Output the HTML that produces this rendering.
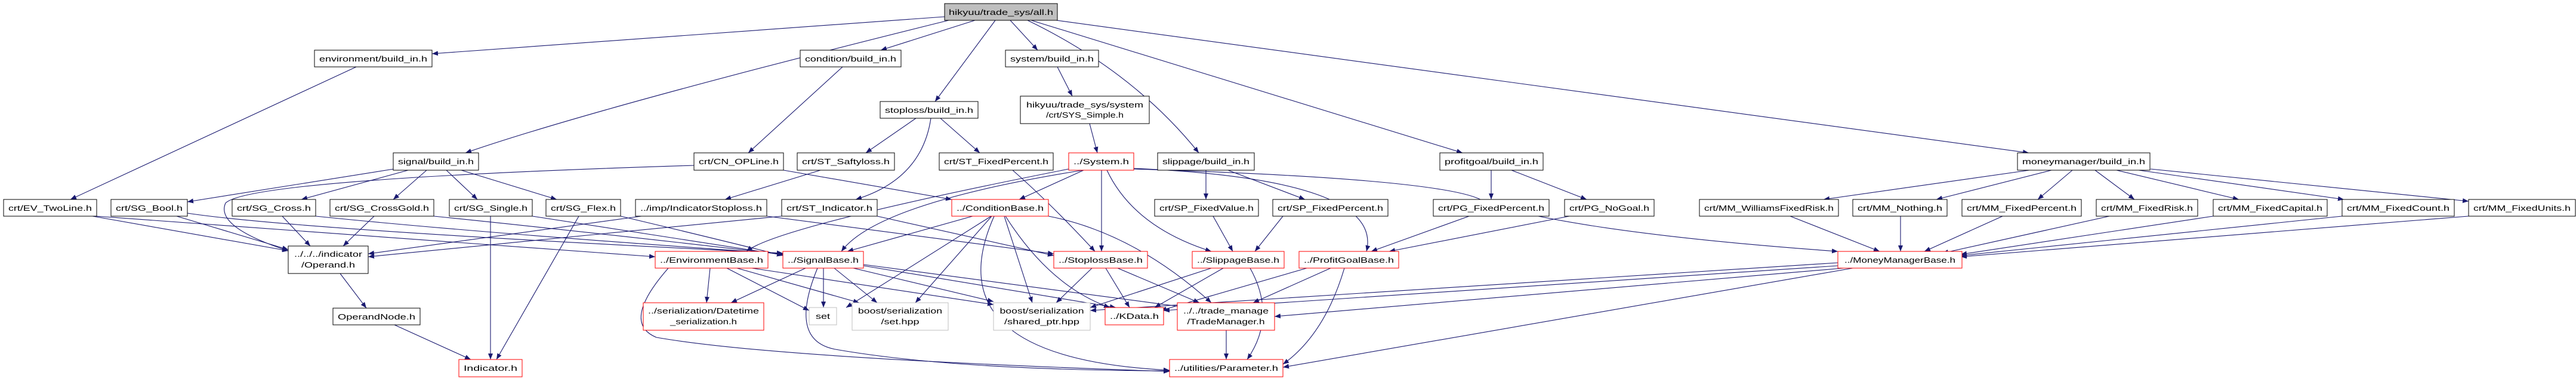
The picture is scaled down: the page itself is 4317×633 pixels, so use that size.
<!DOCTYPE html>
<html><head><meta charset="utf-8"><style>
html,body{margin:0;padding:0;background:#fff;width:4317px;height:633px;overflow:hidden}
svg text{font-family:"Liberation Sans",sans-serif;font-size:13px;fill:#000}
.e{fill:none;stroke:#191970;stroke-width:1.1}
.n{fill:#fff;stroke:#000;stroke-width:1}
.r{fill:#fff;stroke:#f00;stroke-width:1}
.g{fill:#fff;stroke:#bfbfbf;stroke-width:1}
</style></head><body>
<svg width="4317" height="633" viewBox="0 0 4317 633" xmlns="http://www.w3.org/2000/svg">
<defs><marker id="a" viewBox="0 0 10 8" refX="10" refY="4" markerWidth="10" markerHeight="8" markerUnits="userSpaceOnUse" orient="auto"><path d="M0,0L10,4L0,8z" fill="#191970"/></marker></defs>
<g marker-end="url(#a)" class="e">
<path class="e" d="M1583,28L724,90"/>
<path class="e" d="M1590,34Q1000,180 780,256"/>
<path class="e" d="M1634,34L1476,84"/>
<path class="e" d="M1668,34L1567,170"/>
<path class="e" d="M1693,34L1739,84"/>
<path class="e" d="M1722,34Q1900,120 2009,256"/>
<path class="e" d="M1728,34L2451,256"/>
<path class="e" d="M1770,34L3400,256"/>
<path class="e" d="M597,112L118,334"/>
<path class="e" d="M1412,112L1254,256"/>
<path class="e" d="M1535,198L1451,256"/>
<path class="e" d="M1576,198L1642,256"/>
<path class="e" d="M1560,198Q1545,300 1434,334"/>
<path class="e" d="M1772,112L1797,161"/>
<path class="e" d="M1826,207L1839,256"/>
<path class="e" d="M2021,285L2021,334"/>
<path class="e" d="M2058,285L2187,334"/>
<path class="e" d="M2499,285L2499,334"/>
<path class="e" d="M2533,285L2659,334"/>
<path class="e" d="M3401,285L3056,334"/>
<path class="e" d="M3438,285L3245,334"/>
<path class="e" d="M3473,285L3415,334"/>
<path class="e" d="M3511,285L3577,334"/>
<path class="e" d="M3547,285L3752,334"/>
<path class="e" d="M3584,285L3928,334"/>
<path class="e" d="M3604,283L4137,337"/>
<path class="e" d="M660,283L314,338"/>
<path class="e" d="M684,285L505,334"/>
<path class="e" d="M715,285L659,334"/>
<path class="e" d="M748,285L800,334"/>
<path class="e" d="M773,285L933,334"/>
<path class="e" d="M1163,277Q420,300 378,340Q360,380 483,420"/>
<path class="e" d="M155,362L483,420"/>
<path class="e" d="M161,362L1098,430"/>
<path class="e" d="M296,362L483,418"/>
<path class="e" d="M314,357Q500,385 1312,424"/>
<path class="e" d="M473,362L520,412"/>
<path class="e" d="M529,362Q800,390 1312,425"/>
<path class="e" d="M627,362L575,412"/>
<path class="e" d="M727,362Q1000,390 1312,426"/>
<path class="e" d="M822,362L822,602"/>
<path class="e" d="M892,362Q1100,395 1312,427"/>
<path class="e" d="M970,362L832,602"/>
<path class="e" d="M1040,362Q1200,400 1312,428"/>
<path class="e" d="M1075,362L617,425"/>
<path class="e" d="M1285,362L1766,425"/>
<path class="e" d="M1310,362L617,430"/>
<path class="e" d="M1470,362L1766,428"/>
<path class="e" d="M1313,285L1595,334"/>
<path class="e" d="M1375,285L1215,334"/>
<path class="e" d="M570,458L614,516"/>
<path class="e" d="M661,544L789,602"/>
<path class="e" d="M1697,285Q1760,340 1835,421"/>
<path class="e" d="M1791,283Q1300,380 1251,421"/>
<path class="e" d="M1815,285Q1470,340 1410,421"/>
<path class="e" d="M1816,285L1708,334"/>
<path class="e" d="M1846,285L1846,421"/>
<path class="e" d="M1855,285Q1900,380 2030,421"/>
<path class="e" d="M1900,282Q2320,300 2290,421"/>
<path class="e" d="M1900,283Q2450,300 2490,340Q2650,390 3080,421"/>
<path class="e" d="M1630,362L1420,421"/>
<path class="e" d="M1661,362L1418,515"/>
<path class="e" d="M1662,362L1534,507"/>
<path class="e" d="M1683,362L1730,507"/>
<path class="e" d="M1685,362Q1760,480 1860,515"/>
<path class="e" d="M1666,362Q1560,600 1960,620"/>
<path class="e" d="M1757,362Q1900,390 2030,507"/>
<path class="e" d="M2033,362L2066,421"/>
<path class="e" d="M2150,362L2103,421"/>
<path class="e" d="M2462,362L2298,421"/>
<path class="e" d="M2630,362L2328,421"/>
<path class="e" d="M3000,362L3150,421"/>
<path class="e" d="M3185,362L3185,421"/>
<path class="e" d="M3356,362L3225,421"/>
<path class="e" d="M3535,362L3255,424"/>
<path class="e" d="M3709,362L3286,426"/>
<path class="e" d="M3925,362L3286,428"/>
<path class="e" d="M4137,362L3286,430"/>
<path class="e" d="M1190,449L1184,507"/>
<path class="e" d="M1218,449L1356,520"/>
<path class="e" d="M1235,449L1440,507"/>
<path class="e" d="M1260,449L1665,510"/>
<path class="e" d="M1120,449Q1040,540 1100,565Q1300,600 1960,622"/>
<path class="e" d="M1350,449L1225,507"/>
<path class="e" d="M1380,449L1380,515"/>
<path class="e" d="M1398,449L1470,507"/>
<path class="e" d="M1430,449L1665,505"/>
<path class="e" d="M1447,445L1870,515"/>
<path class="e" d="M1447,443L1990,515"/>
<path class="e" d="M1370,449Q1320,570 1400,585Q1600,620 1960,621"/>
<path class="e" d="M1830,449L1770,507"/>
<path class="e" d="M1853,449L1893,515"/>
<path class="e" d="M1873,449L2010,507"/>
<path class="e" d="M2030,449L1827,515"/>
<path class="e" d="M2050,449L1935,515"/>
<path class="e" d="M2095,449Q2140,530 2090,602"/>
<path class="e" d="M2190,449L1945,520"/>
<path class="e" d="M2230,449L2100,507"/>
<path class="e" d="M2253,449Q2220,560 2150,610"/>
<path class="e" d="M3080,440L1827,520"/>
<path class="e" d="M3080,445L1950,520"/>
<path class="e" d="M3090,449L2136,530"/>
<path class="e" d="M3105,449L2150,615"/>
<path class="e" d="M2055,553L2055,602"/>
</g>
<g>
<rect x="1583" y="6" width="189" height="28" fill="#bfbfbf" stroke="#000"/><text x="1677.5" y="25" text-anchor="middle" textLength="175" lengthAdjust="spacingAndGlyphs">hikyuu/trade_sys/all.h</text>
<rect class="n" x="527" y="84" width="197" height="28"/><text x="625.5" y="103" text-anchor="middle" textLength="181" lengthAdjust="spacingAndGlyphs">environment/build_in.h</text>
<rect class="n" x="1341" y="84" width="169" height="28"/><text x="1425.5" y="103" text-anchor="middle" textLength="153" lengthAdjust="spacingAndGlyphs">condition/build_in.h</text>
<rect class="n" x="1685" y="84" width="156" height="28"/><text x="1763" y="103" text-anchor="middle" textLength="140" lengthAdjust="spacingAndGlyphs">system/build_in.h</text>
<rect class="n" x="1475" y="170" width="164" height="28"/><text x="1557" y="189" text-anchor="middle" textLength="148" lengthAdjust="spacingAndGlyphs">stoploss/build_in.h</text>
<rect class="n" x="1710" y="161" width="216" height="46"/><text x="1818" y="180" text-anchor="middle" textLength="196" lengthAdjust="spacingAndGlyphs">hikyuu/trade_sys/system</text><text x="1818" y="197" text-anchor="middle" textLength="130" lengthAdjust="spacingAndGlyphs">/crt/SYS_Simple.h</text>
<rect class="n" x="659" y="256" width="143" height="29"/><text x="730.5" y="275" text-anchor="middle" textLength="127" lengthAdjust="spacingAndGlyphs">signal/build_in.h</text>
<rect class="n" x="1163" y="256" width="150" height="29"/><text x="1238" y="275" text-anchor="middle" textLength="134" lengthAdjust="spacingAndGlyphs">crt/CN_OPLine.h</text>
<rect class="n" x="1336" y="256" width="163" height="29"/><text x="1417.5" y="275" text-anchor="middle" textLength="147" lengthAdjust="spacingAndGlyphs">crt/ST_Saftyloss.h</text>
<rect class="n" x="1574" y="256" width="191" height="29"/><text x="1669.5" y="275" text-anchor="middle" textLength="175" lengthAdjust="spacingAndGlyphs">crt/ST_FixedPercent.h</text>
<rect class="r" x="1791" y="256" width="109" height="29"/><text x="1845.5" y="275" text-anchor="middle" textLength="93" lengthAdjust="spacingAndGlyphs">../System.h</text>
<rect class="n" x="1940" y="256" width="162" height="29"/><text x="2021" y="275" text-anchor="middle" textLength="146" lengthAdjust="spacingAndGlyphs">slippage/build_in.h</text>
<rect class="n" x="2413" y="256" width="173" height="29"/><text x="2499.5" y="275" text-anchor="middle" textLength="157" lengthAdjust="spacingAndGlyphs">profitgoal/build_in.h</text>
<rect class="n" x="3381" y="256" width="222" height="29"/><text x="3492" y="275" text-anchor="middle" textLength="206" lengthAdjust="spacingAndGlyphs">moneymanager/build_in.h</text>
<rect class="n" x="6" y="334" width="156" height="28"/><text x="84" y="353" text-anchor="middle" textLength="140" lengthAdjust="spacingAndGlyphs">crt/EV_TwoLine.h</text>
<rect class="n" x="186" y="334" width="128" height="28"/><text x="250" y="353" text-anchor="middle" textLength="112" lengthAdjust="spacingAndGlyphs">crt/SG_Bool.h</text>
<rect class="n" x="389" y="334" width="140" height="28"/><text x="459" y="353" text-anchor="middle" textLength="124" lengthAdjust="spacingAndGlyphs">crt/SG_Cross.h</text>
<rect class="n" x="553" y="334" width="174" height="28"/><text x="640" y="353" text-anchor="middle" textLength="158" lengthAdjust="spacingAndGlyphs">crt/SG_CrossGold.h</text>
<rect class="n" x="753" y="334" width="139" height="28"/><text x="822.5" y="353" text-anchor="middle" textLength="123" lengthAdjust="spacingAndGlyphs">crt/SG_Single.h</text>
<rect class="n" x="915" y="334" width="125" height="28"/><text x="977.5" y="353" text-anchor="middle" textLength="109" lengthAdjust="spacingAndGlyphs">crt/SG_Flex.h</text>
<rect class="n" x="1065" y="334" width="220" height="28"/><text x="1175" y="353" text-anchor="middle" textLength="204" lengthAdjust="spacingAndGlyphs">../imp/IndicatorStoploss.h</text>
<rect class="n" x="1310" y="334" width="160" height="28"/><text x="1390" y="353" text-anchor="middle" textLength="144" lengthAdjust="spacingAndGlyphs">crt/ST_Indicator.h</text>
<rect class="r" x="1595" y="334" width="162" height="28"/><text x="1676" y="353" text-anchor="middle" textLength="146" lengthAdjust="spacingAndGlyphs">../ConditionBase.h</text>
<rect class="n" x="1935" y="334" width="174" height="28"/><text x="2022" y="353" text-anchor="middle" textLength="158" lengthAdjust="spacingAndGlyphs">crt/SP_FixedValue.h</text>
<rect class="n" x="2133" y="334" width="193" height="28"/><text x="2229.5" y="353" text-anchor="middle" textLength="177" lengthAdjust="spacingAndGlyphs">crt/SP_FixedPercent.h</text>
<rect class="n" x="2402" y="334" width="194" height="28"/><text x="2499" y="353" text-anchor="middle" textLength="178" lengthAdjust="spacingAndGlyphs">crt/PG_FixedPercent.h</text>
<rect class="n" x="2622" y="334" width="150" height="28"/><text x="2697" y="353" text-anchor="middle" textLength="134" lengthAdjust="spacingAndGlyphs">crt/PG_NoGoal.h</text>
<rect class="n" x="2848" y="334" width="233" height="28"/><text x="2964.5" y="353" text-anchor="middle" textLength="217" lengthAdjust="spacingAndGlyphs">crt/MM_WilliamsFixedRisk.h</text>
<rect class="n" x="3105" y="334" width="158" height="28"/><text x="3184" y="353" text-anchor="middle" textLength="142" lengthAdjust="spacingAndGlyphs">crt/MM_Nothing.h</text>
<rect class="n" x="3288" y="334" width="200" height="28"/><text x="3388" y="353" text-anchor="middle" textLength="184" lengthAdjust="spacingAndGlyphs">crt/MM_FixedPercent.h</text>
<rect class="n" x="3513" y="334" width="170" height="28"/><text x="3598" y="353" text-anchor="middle" textLength="154" lengthAdjust="spacingAndGlyphs">crt/MM_FixedRisk.h</text>
<rect class="n" x="3709" y="334" width="191" height="28"/><text x="3804.5" y="353" text-anchor="middle" textLength="175" lengthAdjust="spacingAndGlyphs">crt/MM_FixedCapital.h</text>
<rect class="n" x="3925" y="334" width="188" height="28"/><text x="4019" y="353" text-anchor="middle" textLength="172" lengthAdjust="spacingAndGlyphs">crt/MM_FixedCount.h</text>
<rect class="n" x="4137" y="334" width="179" height="28"/><text x="4226.5" y="353" text-anchor="middle" textLength="163" lengthAdjust="spacingAndGlyphs">crt/MM_FixedUnits.h</text>
<rect class="n" x="483" y="412" width="134" height="46"/><text x="550" y="430" text-anchor="middle" textLength="114" lengthAdjust="spacingAndGlyphs">../../../indicator</text><text x="550" y="448" text-anchor="middle" textLength="90" lengthAdjust="spacingAndGlyphs">/Operand.h</text>
<rect class="r" x="1098" y="421" width="189" height="28"/><text x="1192.5" y="440" text-anchor="middle" textLength="173" lengthAdjust="spacingAndGlyphs">../EnvironmentBase.h</text>
<rect class="r" x="1312" y="421" width="135" height="28"/><text x="1379.5" y="440" text-anchor="middle" textLength="119" lengthAdjust="spacingAndGlyphs">../SignalBase.h</text>
<rect class="r" x="1766" y="421" width="157" height="28"/><text x="1844.5" y="440" text-anchor="middle" textLength="141" lengthAdjust="spacingAndGlyphs">../StoplossBase.h</text>
<rect class="r" x="1998" y="421" width="154" height="28"/><text x="2075" y="440" text-anchor="middle" textLength="138" lengthAdjust="spacingAndGlyphs">../SlippageBase.h</text>
<rect class="r" x="2177" y="421" width="167" height="28"/><text x="2260.5" y="440" text-anchor="middle" textLength="151" lengthAdjust="spacingAndGlyphs">../ProfitGoalBase.h</text>
<rect class="r" x="3080" y="421" width="208" height="28"/><text x="3184" y="440" text-anchor="middle" textLength="186" lengthAdjust="spacingAndGlyphs">../MoneyManagerBase.h</text>
<rect class="n" x="558" y="516" width="146" height="28"/><text x="631" y="535" text-anchor="middle" textLength="130" lengthAdjust="spacingAndGlyphs">OperandNode.h</text>
<rect class="r" x="1078" y="507" width="202" height="46"/><text x="1179" y="525" text-anchor="middle" textLength="186" lengthAdjust="spacingAndGlyphs">../serialization/Datetime</text><text x="1179" y="543" text-anchor="middle" textLength="112" lengthAdjust="spacingAndGlyphs">_serialization.h</text>
<rect class="g" x="1356" y="515" width="46" height="29"/><text x="1379" y="534" text-anchor="middle" textLength="24" lengthAdjust="spacingAndGlyphs">set</text>
<rect class="g" x="1428" y="507" width="161" height="46"/><text x="1508.5" y="525" text-anchor="middle" textLength="141" lengthAdjust="spacingAndGlyphs">boost/serialization</text><text x="1508.5" y="543" text-anchor="middle" textLength="64" lengthAdjust="spacingAndGlyphs">/set.hpp</text>
<rect class="g" x="1665" y="507" width="162" height="46"/><text x="1746" y="525" text-anchor="middle" textLength="141" lengthAdjust="spacingAndGlyphs">boost/serialization</text><text x="1746" y="543" text-anchor="middle" textLength="126" lengthAdjust="spacingAndGlyphs">/shared_ptr.hpp</text>
<rect class="r" x="1852" y="515" width="98" height="29"/><text x="1901" y="534" text-anchor="middle" textLength="82" lengthAdjust="spacingAndGlyphs">../KData.h</text>
<rect class="r" x="1973" y="507" width="163" height="46"/><text x="2054.5" y="525" text-anchor="middle" textLength="143" lengthAdjust="spacingAndGlyphs">../../trade_manage</text><text x="2054.5" y="543" text-anchor="middle" textLength="130" lengthAdjust="spacingAndGlyphs">/TradeManager.h</text>
<rect class="r" x="769" y="602" width="106" height="29"/><text x="822" y="621" text-anchor="middle" textLength="90" lengthAdjust="spacingAndGlyphs">Indicator.h</text>
<rect class="r" x="1960" y="602" width="190" height="29"/><text x="2055" y="621" text-anchor="middle" textLength="174" lengthAdjust="spacingAndGlyphs">../utilities/Parameter.h</text>
</g>
</svg>
</body></html>
